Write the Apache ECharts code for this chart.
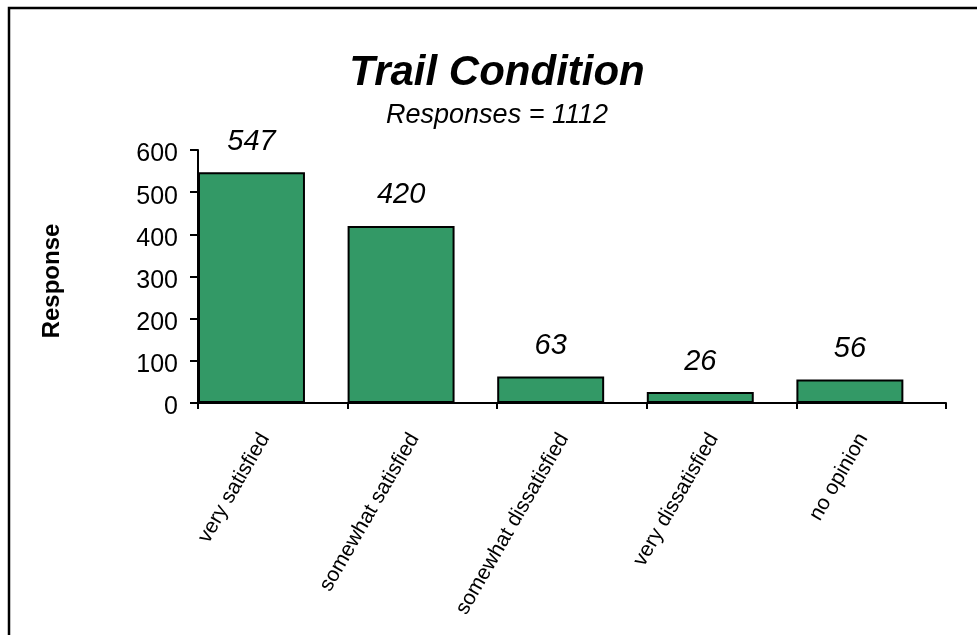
<!DOCTYPE html>
<html>
<head>
<meta charset="utf-8">
<script src="https://cdn.jsdelivr.net/npm/echarts@6/dist/echarts.min.js"></script>
<style>
html,body{margin:0;padding:0;background:#fff;}
#chart{width:977px;height:635px;}
</style>
</head>
<body>
<div id="chart"></div>
<script>
const titleText = 'Trail Condition';
const subtitleText = 'Responses = 1112';
const yAxisTitle = 'Response';
const categories = ['very satisfied', 'somewhat satisfied', 'somewhat dissatisfied', 'very dissatisfied', 'no opinion'];
const responses = [547, 420, 63, 26, 56];
const yTicks = [0, 100, 200, 300, 400, 500, 600];

const FONT = '"Liberation Sans", Arial, sans-serif';
const chart = echarts.init(document.getElementById('chart'), null, {renderer: 'canvas'});
chart.setOption({
  animation: false,
  backgroundColor: '#fff',
  title: {
    text: titleText,
    subtext: subtitleText,
    left: 492,
    top: 47,
    textAlign: 'center',
    itemGap: 8,
    textStyle: {fontFamily: FONT, fontSize: 42, fontWeight: 'bold', fontStyle: 'italic', color: '#000'},
    subtextStyle: {fontFamily: FONT, fontSize: 27, fontStyle: 'italic', color: '#000'}
  },
  grid: {left: 198, right: 31, top: 150, bottom: 232, containLabel: false},
  xAxis: {
    type: 'category',
    data: categories,
    boundaryGap: true,
    axisLine: {lineStyle: {color: '#000', width: 2}},
    axisTick: {show: true, length: 6, lineStyle: {color: '#000', width: 2}},
    axisLabel: {interval: 0, rotate: 60, margin: 32, fontFamily: FONT, fontSize: 21, color: '#000', padding: [0, 4, 0, 0], verticalAlign: 'bottom', lineHeight: 14},
    splitLine: {show: false}
  },
  yAxis: {
    type: 'value',
    min: yTicks[0],
    max: yTicks[yTicks.length - 1],
    interval: yTicks[1] - yTicks[0],
    axisLine: {show: true, lineStyle: {color: '#000', width: 2}},
    axisTick: {show: true, length: 8, lineStyle: {color: '#000', width: 2}},
    axisLabel: {margin: 20, fontFamily: FONT, fontSize: 25, color: '#000', verticalAlign: 'top', lineHeight: 9},
    splitLine: {show: false}
  },
  series: [
    {
      type: 'bar',
      data: responses,
      barWidth: '71.5%',
      barGap: '0%',
      itemStyle: {color: '#339966', borderColor: '#000', borderWidth: 2},
      label: {show: true, position: 'top', distance: 16, fontFamily: FONT, fontSize: 29, fontStyle: 'italic', color: '#000'}
    },
    {
      type: 'bar',
      data: [],
      barWidth: '28.5%',
      barGap: '0%',
      itemStyle: {color: 'rgba(0,0,0,0)'},
      silent: true
    }
  ],
  graphic: [
    {
      type: 'rect',
      shape: {x: 9, y: 8, width: 1200, height: 1000},
      style: {fill: 'none', stroke: '#000', lineWidth: 2.5},
      silent: true
    },
    {
      type: 'text',
      x: 52,
      y: 281,
      rotation: Math.PI / 2,
      style: {text: yAxisTitle, font: 'bold 24px ' + FONT, fill: '#000', textAlign: 'center', textVerticalAlign: 'middle'},
      silent: true
    }
  ]
});
</script>
</body>
</html>
